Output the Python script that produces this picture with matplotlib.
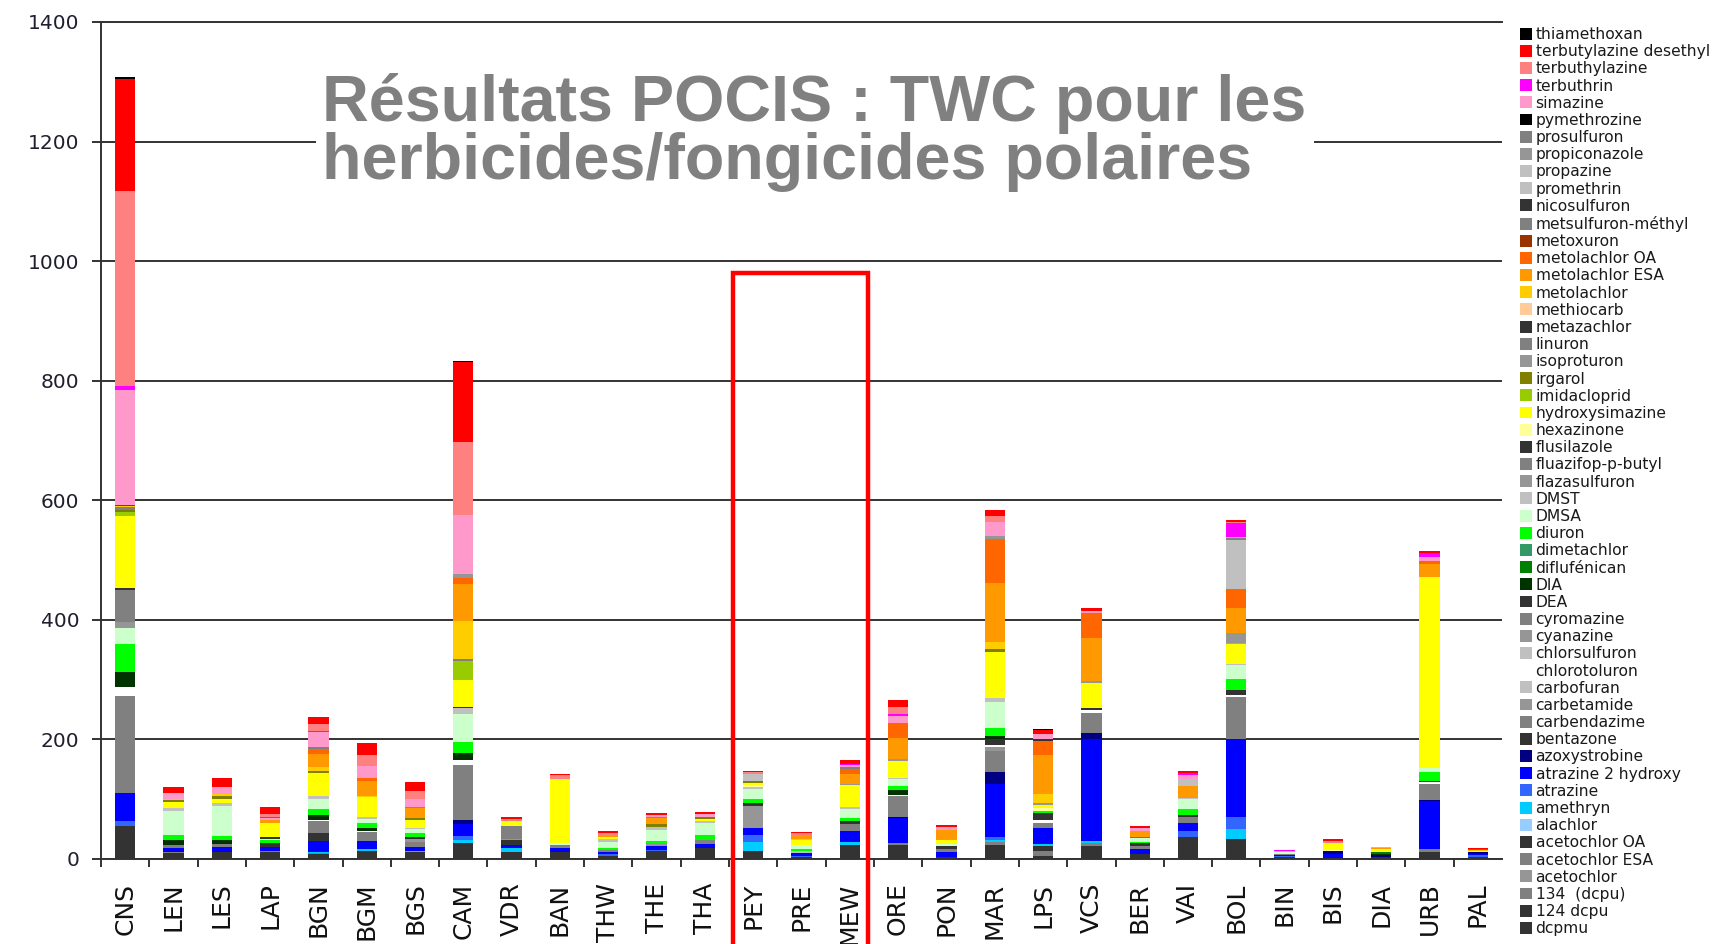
"""Stacked bars of POCIS TWC concentrations, polar herbicides/fungicides per site."""

import matplotlib

matplotlib.use("Agg")

import matplotlib.pyplot as plt
import numpy as np
from matplotlib.patches import Patch, Rectangle


SITES = ["CNS", "LEN", "LES", "LAP", "BGN", "BGM", "BGS", "CAM", "VDR", "BAN",
         "THW", "THE", "THA", "PEY", "PRE", "MEW", "ORE", "PON", "MAR", "LPS",
         "VCS", "BER", "VAI", "BOL", "BIN", "BIS", "DIA", "URB", "PAL"]

# one list per compound, one value per site
dcpmu = [56, 10, 12, 11, 8, 13, 11, 27, 12, 12,
         5, 13, 19, 14, 3, 24, 23, 3, 24, 5,
         21, 9, 36, 33, 3, 2, 4, 12, 4]
dcpu_124 = [0, 0, 0, 0, 0, 0, 0, 0, 0, 0,
            0, 0, 0, 0, 0, 0, 0, 0, 0, 0,
            0, 0, 0, 0, 0, 0, 0, 0, 0]
dcpu_134 = [0, 2, 0, 2, 2, 0, 0, 0, 0, 0,
            0, 0, 0, 0, 0, 0, 4, 0, 4, 9,
            5, 0, 0, 0, 0, 0, 0, 4, 0]
acetochlor = [0, 0, 0, 0, 0, 0, 0, 0, 0, 0,
              0, 0, 0, 0, 0, 0, 0, 0, 0, 0,
              0, 0, 0, 0, 0, 0, 0, 0, 0]
acetochlor_esa = [0, 0, 0, 0, 0, 0, 0, 0, 0, 0,
                  0, 0, 0, 0, 0, 0, 0, 0, 0, 0,
                  0, 0, 0, 0, 0, 0, 0, 0, 0]
acetochlor_oa = [0, 0, 0, 0, 0, 0, 0, 0, 0, 0,
                 0, 0, 0, 0, 0, 0, 0, 0, 0, 8,
                 0, 0, 0, 0, 0, 0, 0, 0, 0]
alachlor = [0, 0, 0, 0, 0, 0, 0, 0, 0, 0,
            0, 0, 0, 0, 0, 0, 0, 0, 0, 0,
            0, 0, 0, 0, 0, 0, 0, 0, 0]
amethryn = [0, 0, 0, 0, 2, 4, 2, 4, 6, 0,
            0, 0, 0, 14, 0, 4, 0, 0, 4, 3,
            4, 0, 0, 17, 0, 0, 0, 0, 0]
atrazine = [8, 0, 0, 0, 0, 0, 0, 8, 0, 0,
            3, 2, 0, 12, 2, 0, 0, 0, 5, 0,
            0, 0, 10, 20, 2, 0, 0, 0, 2]
atrazine_2h = [46, 6, 8, 7, 18, 13, 7, 20, 5, 6,
               4, 6, 6, 12, 5, 19, 41, 8, 88, 27,
               171, 8, 15, 130, 2, 7, 0, 81, 3]
azoxystrobine = [0, 0, 0, 0, 0, 0, 0, 6, 0, 0,
                 0, 0, 0, 0, 0, 0, 2, 0, 20, 0,
                 10, 0, 0, 0, 0, 4, 3, 2, 2]
bentazone = [0, 0, 0, 7, 14, 0, 0, 0, 8, 0,
             0, 0, 0, 0, 0, 0, 0, 0, 0, 0,
             0, 0, 0, 0, 0, 0, 0, 0, 0]
carbendazime = [163, 6, 5, 0, 20, 15, 8, 92, 0, 5,
                3, 0, 6, 0, 0, 12, 35, 6, 36, 9,
                34, 5, 10, 71, 2, 0, 0, 26, 0]
carbetamide = [0, 0, 0, 0, 0, 0, 5, 0, 0, 0,
               0, 5, 0, 37, 0, 0, 0, 0, 6, 0,
               0, 0, 0, 0, 0, 0, 0, 0, 0]
carbofuran = [0, 0, 0, 0, 0, 0, 0, 0, 0, 0,
              0, 0, 0, 0, 3, 0, 0, 0, 0, 0,
              0, 0, 0, 0, 0, 0, 0, 0, 0]
chlorotoluron = [15, 0, 0, 0, 2, 1, 0, 9, 0, 0,
                 0, 0, 0, 0, 0, 0, 2, 0, 3, 4,
                 4, 0, 0, 3, 0, 0, 0, 3, 0]
chlorsulfuron = [0, 0, 0, 0, 0, 0, 0, 0, 0, 0,
                 0, 0, 0, 0, 0, 0, 0, 0, 0, 0,
                 0, 0, 0, 0, 0, 0, 0, 0, 0]
cyanazine = [0, 0, 0, 0, 0, 0, 0, 0, 0, 0,
             0, 0, 0, 0, 0, 0, 0, 0, 0, 0,
             0, 0, 0, 0, 0, 0, 0, 0, 0]
cyromazine = [0, 0, 0, 0, 0, 0, 0, 0, 0, 0,
              0, 0, 0, 0, 0, 0, 0, 0, 0, 0,
              0, 0, 0, 0, 0, 0, 0, 0, 0]
dea = [0, 0, 0, 0, 0, 0, 3, 0, 0, 0,
       0, 0, 0, 4, 0, 4, 0, 5, 10, 12,
       4, 4, 3, 9, 0, 0, 0, 3, 0]
dia = [24, 8, 7, 0, 7, 6, 0, 12, 0, 0,
       0, 0, 0, 0, 0, 0, 8, 0, 5, 0,
       0, 0, 0, 0, 0, 0, 1, 0, 0]
diflufenican = [0, 0, 0, 0, 0, 0, 0, 0, 0, 0,
                0, 0, 0, 0, 0, 0, 0, 0, 0, 0,
                0, 0, 0, 0, 0, 0, 4, 0, 0]
dimetachlor = [0, 0, 0, 0, 0, 0, 0, 0, 0, 0,
               0, 0, 0, 0, 0, 0, 0, 0, 0, 0,
               0, 0, 0, 0, 0, 0, 0, 0, 0]
diuron = [47, 8, 7, 5, 10, 8, 7, 17, 2, 0,
          3, 4, 9, 7, 4, 6, 7, 0, 14, 4,
          0, 2, 9, 18, 0, 0, 0, 14, 0]
dmsa = [27, 41, 49, 2, 18, 7, 7, 47, 0, 4,
        11, 19, 20, 17, 6, 14, 11, 3, 43, 0,
        0, 7, 17, 23, 3, 0, 2, 7, 0]
dmst = [0, 5, 5, 0, 4, 3, 2, 11, 0, 0,
        4, 4, 4, 3, 0, 4, 3, 0, 8, 0,
        0, 0, 2, 3, 0, 0, 0, 0, 0]
flazasulfuron = [11, 0, 0, 0, 0, 0, 0, 0, 0, 0,
                 0, 0, 0, 0, 0, 0, 0, 0, 0, 0,
                 0, 0, 0, 0, 0, 0, 0, 0, 0]
fluazifop = [53, 0, 0, 0, 0, 0, 0, 0, 23, 0,
             0, 0, 0, 0, 0, 0, 0, 0, 0, 0,
             0, 0, 0, 0, 0, 0, 0, 0, 0]
flusilazole = [3, 0, 0, 2, 0, 0, 0, 2, 0, 0,
               0, 0, 0, 0, 0, 0, 0, 0, 0, 0,
               0, 0, 0, 0, 0, 0, 0, 0, 0]
hexazinone = [0, 0, 0, 0, 0, 0, 0, 0, 0, 0,
              0, 0, 0, 4, 0, 0, 0, 0, 0, 4,
              0, 0, 0, 0, 0, 2, 0, 0, 0]
hydroxysimazine = [120, 9, 8, 25, 39, 33, 13, 45, 8, 106,
                   3, 0, 3, 3, 8, 37, 28, 6, 76, 6,
                   42, 0, 0, 33, 0, 11, 3, 319, 3]
imidacloprid = [7, 0, 0, 0, 0, 0, 0, 32, 0, 0,
                0, 0, 0, 0, 0, 0, 0, 0, 0, 0,
                0, 0, 0, 2, 0, 0, 0, 0, 0]
irgarol = [4, 4, 5, 0, 3, 0, 3, 0, 0, 0,
           0, 6, 3, 4, 0, 0, 0, 0, 5, 0,
           0, 2, 0, 0, 0, 1, 0, 0, 0]
isoproturon = [0, 0, 0, 0, 0, 0, 0, 0, 0, 0,
               0, 0, 0, 0, 0, 2, 3, 0, 0, 3,
               3, 0, 0, 16, 0, 0, 0, 0, 0]
linuron = [4, 0, 0, 0, 0, 0, 0, 3, 0, 0,
           0, 0, 0, 0, 0, 0, 0, 0, 0, 0,
           0, 0, 0, 0, 0, 0, 0, 0, 0]
metazachlor = [0, 0, 0, 0, 0, 0, 0, 0, 0, 0,
               0, 0, 0, 0, 0, 0, 0, 0, 0, 0,
               0, 0, 0, 0, 0, 0, 0, 0, 0]
methiocarb = [0, 0, 0, 0, 0, 0, 0, 0, 0, 0,
              0, 0, 0, 0, 0, 0, 0, 0, 0, 0,
              0, 0, 0, 0, 0, 0, 0, 0, 0]
metolachlor = [2, 2, 2, 0, 7, 3, 0, 63, 0, 0,
               0, 0, 0, 0, 3, 0, 0, 0, 12, 15,
               0, 0, 0, 0, 0, 0, 0, 0, 1]
metolachlor_esa = [0, 0, 0, 5, 22, 24, 17, 62, 0, 0,
                   3, 10, 0, 0, 6, 17, 36, 17, 99, 65,
                   72, 9, 20, 41, 0, 0, 2, 23, 0]
metolachlor_oa = [0, 0, 0, 0, 8, 5, 2, 10, 0, 0,
                  0, 2, 0, 0, 0, 8, 25, 0, 73, 23,
                  41, 0, 0, 32, 0, 0, 0, 5, 0]
metoxuron = [2, 0, 0, 0, 0, 0, 0, 0, 0, 0,
             0, 0, 0, 0, 0, 0, 0, 0, 0, 0,
             0, 0, 0, 0, 0, 0, 0, 0, 0]
metsulfuron = [0, 0, 0, 0, 3, 0, 0, 0, 0, 0,
               0, 0, 0, 0, 0, 0, 0, 0, 0, 0,
               0, 0, 0, 0, 0, 0, 0, 0, 0]
nicosulfuron = [0, 0, 0, 0, 0, 0, 0, 0, 0, 0,
                0, 0, 0, 0, 0, 0, 0, 0, 0, 3,
                0, 0, 0, 0, 0, 0, 0, 0, 0]
promethrin = [0, 0, 0, 0, 0, 0, 0, 0, 0, 0,
              0, 0, 0, 0, 0, 0, 0, 0, 0, 0,
              0, 0, 0, 0, 0, 0, 0, 0, 0]
propazine = [0, 0, 0, 0, 0, 0, 0, 0, 0, 0,
             0, 0, 0, 11, 0, 0, 0, 0, 0, 0,
             0, 0, 12, 82, 0, 0, 0, 0, 0]
propiconazole = [0, 0, 0, 0, 0, 0, 0, 6, 0, 0,
                 0, 0, 0, 0, 0, 0, 0, 0, 5, 0,
                 0, 0, 0, 0, 0, 0, 0, 0, 0]
prosulfuron = [0, 0, 0, 0, 0, 0, 0, 0, 0, 0,
               0, 0, 0, 0, 0, 3, 0, 0, 0, 0,
               0, 0, 0, 4, 0, 0, 0, 0, 0]
pymethrozine = [0, 0, 0, 0, 0, 0, 0, 0, 0, 0,
                0, 0, 0, 0, 0, 0, 0, 0, 0, 0,
                0, 0, 0, 0, 0, 0, 0, 0, 0]
simazine = [192, 9, 12, 2, 25, 21, 14, 99, 0, 0,
            0, 3, 5, 0, 0, 3, 11, 5, 23, 9,
            4, 6, 7, 2, 1, 0, 1, 6, 0]
terbuthrin = [7, 0, 0, 2, 2, 0, 0, 0, 0, 0,
              0, 0, 0, 0, 0, 2, 3, 0, 0, 0,
              0, 0, 3, 23, 2, 0, 0, 6, 2]
terbuthylazine = [327, 0, 0, 6, 11, 18, 12, 122, 3, 7,
                  4, 0, 0, 4, 3, 0, 13, 0, 11, 0,
                  0, 0, 0, 2, 0, 3, 0, 0, 0]
terbutylazine_desethyl = [187, 11, 15, 11, 12, 20, 15, 134, 3, 3,
                          3, 3, 4, 2, 2, 7, 11, 4, 10, 7,
                          4, 4, 4, 3, 0, 3, 0, 5, 1]
thiamethoxan = [3, 0, 0, 0, 0, 0, 0, 2, 0, 0,
                0, 0, 0, 0, 0, 0, 0, 0, 0, 2,
                0, 0, 0, 0, 0, 0, 0, 0, 0]

# stacking order, bottom first
SERIES = [
    ("dcpmu", dcpmu, "#333333"),
    ("124 dcpu", dcpu_124, "#333333"),
    ("134  (dcpu)", dcpu_134, "#808080"),
    ("acetochlor", acetochlor, "#969696"),
    ("acetochlor ESA", acetochlor_esa, "#808080"),
    ("acetochlor OA", acetochlor_oa, "#333333"),
    ("alachlor", alachlor, "#99CCFF"),
    ("amethryn", amethryn, "#00CCFF"),
    ("atrazine", atrazine, "#3366FF"),
    ("atrazine 2 hydroxy", atrazine_2h, "#0000FF"),
    ("azoxystrobine", azoxystrobine, "#000080"),
    ("bentazone", bentazone, "#333333"),
    ("carbendazime", carbendazime, "#808080"),
    ("carbetamide", carbetamide, "#969696"),
    ("carbofuran", carbofuran, "#C0C0C0"),
    ("chlorotoluron", chlorotoluron, "#FFFFFF"),
    ("chlorsulfuron", chlorsulfuron, "#C0C0C0"),
    ("cyanazine", cyanazine, "#969696"),
    ("cyromazine", cyromazine, "#808080"),
    ("DEA", dea, "#333333"),
    ("DIA", dia, "#003300"),
    ("diflufénican", diflufenican, "#008000"),
    ("dimetachlor", dimetachlor, "#339966"),
    ("diuron", diuron, "#00FF00"),
    ("DMSA", dmsa, "#CCFFCC"),
    ("DMST", dmst, "#C0C0C0"),
    ("flazasulfuron", flazasulfuron, "#969696"),
    ("fluazifop-p-butyl", fluazifop, "#808080"),
    ("flusilazole", flusilazole, "#333333"),
    ("hexazinone", hexazinone, "#FFFF99"),
    ("hydroxysimazine", hydroxysimazine, "#FFFF00"),
    ("imidacloprid", imidacloprid, "#99CC00"),
    ("irgarol", irgarol, "#808000"),
    ("isoproturon", isoproturon, "#969696"),
    ("linuron", linuron, "#808080"),
    ("metazachlor", metazachlor, "#333333"),
    ("methiocarb", methiocarb, "#FFCC99"),
    ("metolachlor", metolachlor, "#FFCC00"),
    ("metolachlor ESA", metolachlor_esa, "#FF9900"),
    ("metolachlor OA", metolachlor_oa, "#FF6600"),
    ("metoxuron", metoxuron, "#993300"),
    ("metsulfuron-méthyl", metsulfuron, "#808080"),
    ("nicosulfuron", nicosulfuron, "#333333"),
    ("promethrin", promethrin, "#C0C0C0"),
    ("propazine", propazine, "#C0C0C0"),
    ("propiconazole", propiconazole, "#969696"),
    ("prosulfuron", prosulfuron, "#808080"),
    ("pymethrozine", pymethrozine, "#000000"),
    ("simazine", simazine, "#FF99CC"),
    ("terbuthrin", terbuthrin, "#FF00FF"),
    ("terbuthylazine", terbuthylazine, "#FF8080"),
    ("terbutylazine desethyl", terbutylazine_desethyl, "#FF0000"),
    ("thiamethoxan", thiamethoxan, "#000000"),
]

W, H = 1724, 944


def main() -> None:
    plt.rcParams["font.family"] = "DejaVu Sans"

    fig = plt.figure(figsize=(W / 100, H / 100), dpi=100)
    ax = fig.add_axes([101 / W, 85 / H, (1502 - 101) / W, (859 - 22) / H])

    x = np.arange(len(SITES))
    bottom = np.zeros(len(SITES))
    for label, values, color in SERIES:
        vals = np.asarray(values, dtype=float)
        ax.bar(x, vals, 0.42, bottom=bottom, color=color, linewidth=0, zorder=2)
        bottom += vals

    ax.set_xlim(-0.5, len(SITES) - 0.5)
    ax.set_ylim(0, 1400)
    ax.set_yticks(range(0, 1401, 200))
    ax.yaxis.grid(True, color="#333333", linewidth=1.4)
    ax.set_axisbelow(True)

    for side in ("left", "bottom", "top"):
        ax.spines[side].set_color("#333333")
        ax.spines[side].set_linewidth(1.4)
    ax.spines["right"].set_visible(False)

    ax.set_xticks(np.arange(-0.5, len(SITES) - 1))
    ax.set_xticklabels([])
    ax.set_xticks(x, minor=True)
    ax.set_xticklabels(SITES, minor=True, rotation=90, fontsize=18, color="#111111")
    ax.tick_params(axis="x", which="major", length=6, width=1.4, color="#333333")
    ax.tick_params(axis="x", which="minor", length=0, pad=17)
    ax.tick_params(axis="y", length=6.5, width=1.4, color="#333333", pad=9,
                   labelsize=14.5, labelcolor="#1f1f2f")

    # white box behind the title cuts the 1200 gridline
    ax.add_patch(Rectangle((316 / W, 1 - 235 / H), (1314 - 316) / W, (235 - 45) / H,
                           transform=fig.transFigure, facecolor="white",
                           edgecolor="none", zorder=1))
    for text, base in (("Résultats POCIS : TWC pour les", 121),
                       ("herbicides/fongicides polaires", 179)):
        fig.text(322 / W, 1 - base / H, text, fontsize=46.5, fontweight="bold",
                 family="Liberation Sans", color="#808080", va="baseline", ha="left")

    # red frame around PEY / PRE / MEW
    ax.add_patch(Rectangle((12.58, -400), 15.38 - 12.58, 980 + 400, fill=False,
                           edgecolor="#FF0000", linewidth=3.2, clip_on=False, zorder=5))

    handles = [Patch(facecolor=c, edgecolor="none") for _, _, c in SERIES][::-1]
    labels = [name for name, _, _ in SERIES][::-1]
    fig.legend(handles, labels, loc="upper left", bbox_to_anchor=(1520 / W, 1 - 27 / H),
               frameon=False, fontsize=11.2, handlelength=0.8, handleheight=0.8,
               handletextpad=0.2, labelspacing=0.14, borderpad=0, borderaxespad=0,
               labelcolor="#1a1a1a")

    fig.savefig("out.png", dpi=100, facecolor="white")
    plt.close(fig)


if __name__ == "__main__":
    main()
